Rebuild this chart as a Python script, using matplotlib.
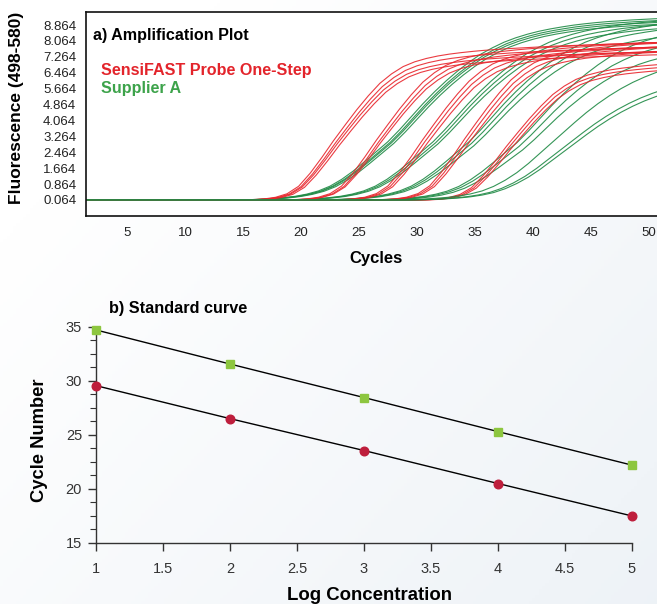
import numpy as np
import matplotlib
matplotlib.use('Agg')
import matplotlib.pyplot as plt
from matplotlib.ticker import AutoMinorLocator

plt.rcParams['font.family'] = ['Liberation Sans', 'DejaVu Sans']

# ---------------- a) Amplification plot ----------------
# fluorescence, per cycle, relative to the cycle where F ~ 3
# (offsets -45 ... ), one shape per kit plus the flat late Supplier A dilution
d_start = -45
red_shape = [0.064] * 38 + [
    0.08, 0.11, 0.19, 0.36, 0.72, 1.35, 2.10, 2.90, 3.65, 4.38,
    5.05, 5.65, 6.10, 6.45, 6.68, 6.84, 6.96, 7.05, 7.12, 7.18,
    7.23, 7.27, 7.31, 7.34, 7.37, 7.40, 7.43, 7.45, 7.47, 7.49,
    7.51, 7.53, 7.55, 7.57, 7.59, 7.60, 7.62, 7.63]
green_shape = [0.064] * 33 + [
    0.08, 0.10, 0.13, 0.18, 0.25, 0.36, 0.52, 0.76, 1.10, 1.52,
    2.00, 2.50, 3.00, 3.60, 4.25, 4.90, 5.50, 6.05, 6.55, 7.00,
    7.40, 7.72, 8.00, 8.22, 8.40, 8.55, 8.67, 8.77, 8.86, 8.93,
    8.99, 9.04, 9.08, 9.12, 9.15, 9.18, 9.20, 9.22, 9.24, 9.26,
    9.27, 9.28, 9.29]
late_shape = [0.064] * 32 + [
    0.08, 0.10, 0.13, 0.17, 0.23, 0.32, 0.45, 0.65, 0.92, 1.25,
    1.65, 2.10, 2.55, 3.00, 3.45, 3.88, 4.27, 4.62, 4.93, 5.20,
    5.43, 5.63, 5.80, 5.95]

# crossing cycle and plateau factor of every replicate
red_ct = [22.8, 23.0, 23.1, 23.3, 26.5, 26.7, 26.8, 30.5, 30.7, 30.9,
          34.1, 34.3, 34.5, 37.7, 37.9, 38.1]
red_top = [1.05, 1.02, 0.99, 0.97, 1.06, 1.03, 1.00, 1.07, 1.04, 1.01,
           1.08, 1.05, 1.02, 0.95, 0.93, 0.91]
green_ct = [27.5, 27.7, 27.8, 28.0, 31.4, 31.6, 31.8, 34.5, 34.7, 34.9,
            38.6, 38.8, 39.1]
green_top = [1.00, 0.99, 0.98, 0.97, 1.00, 0.98, 0.96, 1.00, 0.97, 0.93,
             0.98, 0.92, 0.86]
late_ct = [42.6, 43.3, 43.6]
late_top = [1.15, 1.00, 0.97]

fluo_ticks = [0.064, 0.864, 1.664, 2.464, 3.264, 4.064, 4.864, 5.664,
              6.464, 7.264, 8.064, 8.864]
cycle_ticks = [5, 10, 15, 20, 25, 30, 35, 40, 45, 50]

# ---------------- b) Standard curve ----------------
log_conc = [1, 2, 3, 4, 5]
ct_supplier = [34.7, 31.55, 28.45, 25.3, 22.2]
ct_sensifast = [29.55, 26.5, 23.55, 20.5, 17.5]

RED = '#e8262d'
GREEN = '#1f8a45'

fig = plt.figure(figsize=(6.57, 6.04), dpi=100)

# faint background wash
bg = fig.add_axes([0, 0, 1, 1], zorder=-10)
gx, gy = np.meshgrid(np.linspace(0, 1, 200), np.linspace(0, 1, 200))
w = np.clip(0.6 * gx + 0.5 * gy - 0.2, 0, 1)[..., None]
c0 = np.array([1.0, 1.0, 1.0])
c1 = np.array([0.925, 0.945, 0.965])
bg.imshow(c0 * (1 - w) + c1 * w, aspect='auto', origin='upper', extent=[0, 1, 0, 1])
bg.axis('off')

# top panel
ax1 = fig.add_axes([86 / 657, 1 - 216 / 604, 584 / 657, 204 / 604])
ax1.set_facecolor('white')

for shape, cts, tops, col in [(green_shape, green_ct, green_top, GREEN),
                              (red_shape, red_ct, red_top, RED),
                              (late_shape, late_ct, late_top, GREEN)]:
    d = np.arange(d_start, d_start + len(shape))
    for ct, top in zip(cts, tops):
        ax1.plot(ct + d, np.array(shape) * top, color=col, lw=0.8, alpha=0.9)

ax1.set_xlim(1.466, 51.81)
ax1.set_ylim(-0.741, 9.52)
ax1.set_xticks(cycle_ticks)
ax1.set_yticks(fluo_ticks)
ax1.set_yticklabels(['%.3f' % v for v in fluo_ticks])
ax1.tick_params(length=0, labelsize=9.5, colors='#222222')
ax1.tick_params(axis='x', pad=8)
ax1.tick_params(axis='y', pad=7)
for s in ['top', 'left', 'bottom']:
    ax1.spines[s].set_color('#111111')
    ax1.spines[s].set_linewidth(1.2)
ax1.spines['right'].set_visible(False)

ax1.set_xlabel('Cycles', fontsize=12, fontweight='bold')
ax1.xaxis.set_label_coords(0.497, -0.17)
ax1.set_ylabel('Fluorescence (498-580)', fontsize=12.5, fontweight='bold')
ax1.yaxis.set_label_coords(-0.106, 0.53)

ax1.text(0.012, 0.887, 'a) Amplification Plot', transform=ax1.transAxes,
         fontsize=11.6, fontweight='bold', va='center', ha='left')
ax1.text(0.0257, 0.711, 'SensiFAST Probe One-Step', transform=ax1.transAxes,
         fontsize=11.6, fontweight='bold', va='center', ha='left', color='#e3242b')
ax1.text(0.0257, 0.623, 'Supplier A', transform=ax1.transAxes,
         fontsize=11.6, fontweight='bold', va='center', ha='left', color='#3da34b')

# bottom panel
ax2 = fig.add_axes([96 / 657, 1 - 543 / 604, 536 / 657, 216.3 / 604])
ax2.patch.set_alpha(0)
ax2.plot(log_conc, ct_supplier, color='black', lw=1.0, zorder=2)
ax2.plot(log_conc, ct_sensifast, color='black', lw=1.0, zorder=2)
ax2.plot(log_conc, ct_supplier, ls='none', marker='s', ms=6.2,
         color='#8dc63f', zorder=3, clip_on=False)
ax2.plot(log_conc, ct_sensifast, ls='none', marker='o', ms=6.2,
         color='#be1e3c', zorder=3, clip_on=False)

ax2.set_xlim(1, 5)
ax2.set_ylim(15, 35)
ax2.set_xticks([1, 1.5, 2, 2.5, 3, 3.5, 4, 4.5, 5])
ax2.set_xticklabels(['1', '1.5', '2', '2.5', '3', '3.5', '4', '4.5', '5'])
ax2.set_yticks([15, 20, 25, 30, 35])
ax2.yaxis.set_minor_locator(AutoMinorLocator(4))
ax2.tick_params(which='major', length=6, width=1, labelsize=10.5,
                colors='#333333', direction='out')
ax2.tick_params(which='minor', length=4, width=0.8, colors='#333333')
ax2.tick_params(axis='x', pad=8)
ax2.tick_params(axis='y', pad=4)
for s in ['top', 'right']:
    ax2.spines[s].set_visible(False)
for s in ['left', 'bottom']:
    ax2.spines[s].set_color('#333333')
    ax2.spines[s].set_linewidth(1.0)

ax2.set_xlabel('Log Concentration', fontsize=13.4, fontweight='bold')
ax2.xaxis.set_label_coords(0.511, -0.202)
ax2.set_ylabel('Cycle Number', fontsize=13.2, fontweight='bold')
ax2.yaxis.set_label_coords(-0.09, 0.476)
ax2.text(0.024, 1.082, 'b) Standard curve', transform=ax2.transAxes,
         fontsize=11.7, fontweight='bold', va='center', ha='left')

fig.savefig('out.png', dpi=100)
